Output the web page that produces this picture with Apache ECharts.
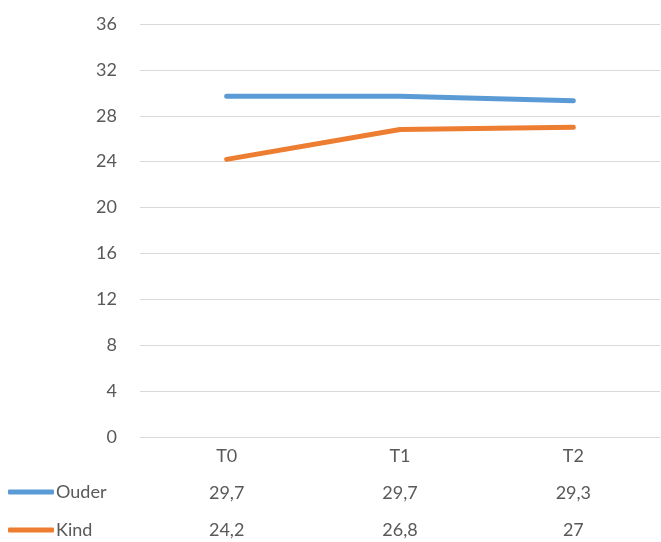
<!DOCTYPE html>
<html><head><meta charset="utf-8">
<script src="https://cdn.jsdelivr.net/npm/echarts@6/dist/echarts.min.js"></script>
<style>html,body{margin:0;padding:0;background:#fff}#c{width:661px;height:542px}</style>
</head><body><div id="c"></div>
<script>
const categories = ['T0', 'T1', 'T2'];
const seriesNames = ['Ouder', 'Kind'];
const ouder = [29.7, 29.7, 29.3];
const kind = [24.2, 26.8, 27];
const yTicks = [0, 4, 8, 12, 16, 20, 24, 28, 32, 36];

const fmt = v => String(v).replace('.', ',');
const chart = echarts.init(document.getElementById('c'));
const font = 'Lato, "Open Sans", sans-serif';
const legendBase = {
  orient: 'vertical', left: 8, padding: 0,
  itemWidth: 46, itemHeight: 5, icon: 'roundRect',
  textStyle: { color: '#595959', fontSize: 18, fontFamily: font, padding: [0, 0, 0, -3] }
};
chart.setOption({
  animation: false,
  textStyle: { fontFamily: font },
  grid: { left: 140, right: 1, top: 24, bottom: 105, outerBoundsMode: 'none', containLabel: false },
  xAxis: {
    type: 'category', data: categories, boundaryGap: true,
    axisLine: { show: true, lineStyle: { color: '#d9d9d9', width: 1 } },
    axisTick: { show: false },
    axisLabel: {
      margin: 1, interval: 0, color: '#595959', fontSize: 18, fontFamily: font,
      lineHeight: 37,
      formatter: (v, i) => v + '\n' + fmt(ouder[i]) + '\n' + fmt(kind[i])
    }
  },
  yAxis: {
    type: 'value', min: yTicks[0], max: yTicks[yTicks.length - 1], interval: 4,
    axisLine: { show: false }, axisTick: { show: false },
    axisLabel: { color: '#595959', fontSize: 18, fontFamily: font, margin: 23 },
    splitLine: { lineStyle: { color: '#d9d9d9', width: 1 } }
  },
  legend: [
    Object.assign({}, legendBase, { top: 483, data: [seriesNames[0]] }),
    Object.assign({}, legendBase, { top: 521, data: [seriesNames[1]] })
  ],
  series: [
    { name: seriesNames[0], type: 'line', data: ouder, symbol: 'none',
      lineStyle: { color: '#5B9BD5', width: 5, cap: 'round' }, itemStyle: { color: '#5B9BD5' } },
    { name: seriesNames[1], type: 'line', data: kind, symbol: 'none',
      lineStyle: { color: '#ED7D31', width: 5, cap: 'round' }, itemStyle: { color: '#ED7D31' } }
  ]
});
</script></body></html>
